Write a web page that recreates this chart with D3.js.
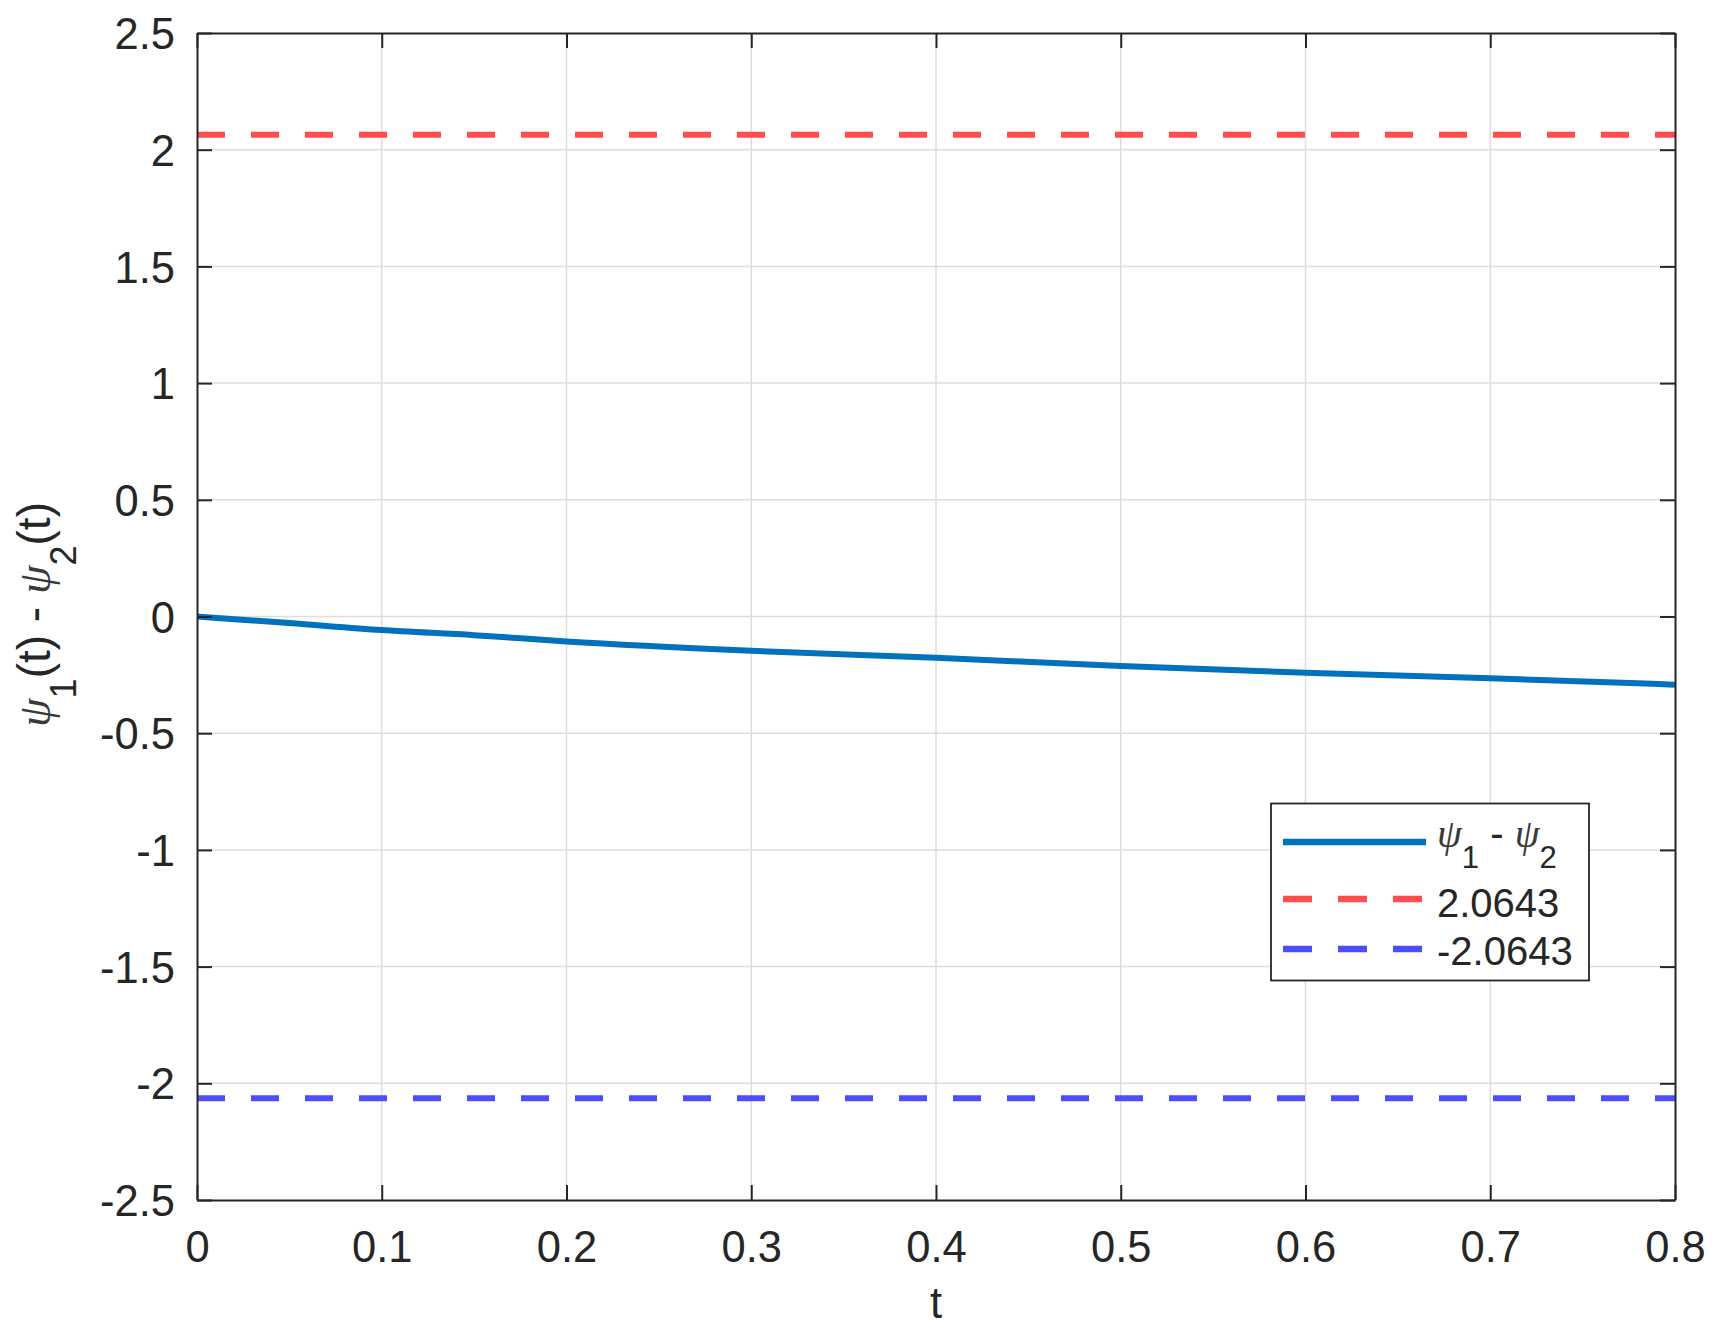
<!DOCTYPE html>
<html>
<head>
<meta charset="utf-8">
<script src="https://cdn.jsdelivr.net/npm/d3@7"></script>
<style>
  html, body { margin: 0; padding: 0; background: #fff; }
  svg { display: block; }
  text { font-family: "Liberation Sans", Arial, Helvetica, sans-serif; fill: #262626; }
</style>
</head>
<body>
<svg id="chart" width="1717" height="1337"></svg>
<script>
// ---- data ----
const tValues = [0, 0.05, 0.1, 0.15, 0.2, 0.3, 0.4, 0.5, 0.6, 0.7, 0.8];
const psiDiff = [0, -0.028, -0.058, -0.08, -0.107, -0.147, -0.177, -0.212, -0.241, -0.265, -0.292];
const upperBound = 2.0643;
const lowerBound = -2.0643;
const xTicks = [0, 0.1, 0.2, 0.3, 0.4, 0.5, 0.6, 0.7, 0.8];
const xTickLabels = ["0", "0.1", "0.2", "0.3", "0.4", "0.5", "0.6", "0.7", "0.8"];
const yTicks = [-2.5, -2, -1.5, -1, -0.5, 0, 0.5, 1, 1.5, 2, 2.5];
const yTickLabels = ["-2.5", "-2", "-1.5", "-1", "-0.5", "0", "0.5", "1", "1.5", "2", "2.5"];
const legendLabels = ["2.0643", "-2.0643"];

// ---- layout ----
const W = 1717, H = 1337;
const margin = { left: 197, top: 33, right: 42, bottom: 137 };
const pw = W - margin.left - margin.right;
const ph = H - margin.top - margin.bottom;
const axisColor = "#262626";
const gridColor = "#dedede";
const blue = "#0072BD", red = "#ff4d4d", dblue = "#4d4dff";
const tickFont = 43.5;

const svg = d3.select("#chart");
const g = svg.append("g").attr("transform", `translate(${margin.left},${margin.top})`);

const x = d3.scaleLinear().domain([0, 0.8]).range([0, pw]);
const y = d3.scaleLinear().domain([-2.5, 2.5]).range([ph, 0]);

// grid
g.append("g").selectAll("line").data(xTicks.slice(1, -1)).join("line")
  .attr("x1", d => x(d)).attr("x2", d => x(d)).attr("y1", 0).attr("y2", ph)
  .attr("stroke", gridColor).attr("stroke-width", 1.5);
g.append("g").selectAll("line").data(yTicks.slice(1, -1)).join("line")
  .attr("y1", d => y(d)).attr("y2", d => y(d)).attr("x1", 0).attr("x2", pw)
  .attr("stroke", gridColor).attr("stroke-width", 1.5);

// clip
svg.append("defs").append("clipPath").attr("id", "clip")
  .append("rect").attr("x", 0).attr("y", 0).attr("width", pw).attr("height", ph);
const plot = g.append("g").attr("clip-path", "url(#clip)");

// bounds
plot.append("line").attr("x1", x(0)).attr("x2", x(0.8))
  .attr("y1", y(upperBound)).attr("y2", y(upperBound))
  .attr("stroke", red).attr("stroke-width", 6).attr("stroke-dasharray", "28,26");
plot.append("line").attr("x1", x(0)).attr("x2", x(0.8))
  .attr("y1", y(lowerBound)).attr("y2", y(lowerBound))
  .attr("stroke", dblue).attr("stroke-width", 6).attr("stroke-dasharray", "28,26");

// main series
const pts = tValues.map((t, i) => [t, psiDiff[i]]);
const line = d3.line().x(d => x(d[0])).y(d => y(d[1])).curve(d3.curveMonotoneX);
plot.append("path").attr("d", line(pts)).attr("fill", "none")
  .attr("stroke", blue).attr("stroke-width", 6);

// axes with inside ticks, all four sides
const xAxisB = d3.axisBottom(x).tickValues(xTicks).tickFormat((d, i) => xTickLabels[i]).tickSizeInner(-15).tickSizeOuter(0).tickPadding(30);
const xAxisT = d3.axisTop(x).tickValues(xTicks).tickFormat("").tickSizeInner(-15).tickSizeOuter(0);
const yAxisL = d3.axisLeft(y).tickValues(yTicks).tickFormat((d, i) => yTickLabels[i]).tickSizeInner(-15).tickSizeOuter(0).tickPadding(22);
const yAxisR = d3.axisRight(y).tickValues(yTicks).tickFormat("").tickSizeInner(-15).tickSizeOuter(0);

function style(sel) {
  sel.select(".domain").attr("stroke", axisColor).attr("stroke-width", 2);
  sel.selectAll(".tick line").attr("stroke", axisColor).attr("stroke-width", 2);
  sel.selectAll(".tick text").attr("fill", axisColor).style("font-size", tickFont + "px")
    .style("font-family", '"Liberation Sans", Arial, sans-serif');
}
const gxB = g.append("g").attr("transform", `translate(0,${ph})`).call(xAxisB); style(gxB);
gxB.selectAll(".tick text").attr("y", 0).attr("dy", 0).attr("transform", "translate(0,62)");
const gxT = g.append("g").call(xAxisT); style(gxT);
const gyL = g.append("g").call(yAxisL); style(gyL);
gyL.selectAll(".tick text").attr("dy", "0.36em");
const gyR = g.append("g").attr("transform", `translate(${pw},0)`).call(yAxisR); style(gyR);

// axis labels
svg.append("text").attr("x", margin.left + pw / 2).attr("y", 1318)
  .attr("text-anchor", "middle").style("font-size", tickFont + "px").text("t");

const psiStyle = 'font-family:"Liberation Serif","DejaVu Serif",serif;font-style:italic;font-weight:300;fill:#3a3a3a';
const yl = svg.append("text")
  .attr("transform", `translate(50,${margin.top + ph / 2 - 2}) rotate(-90)`)
  .attr("text-anchor", "middle").style("font-size", "46px");
yl.append("tspan").attr("style", psiStyle).text("ψ");
yl.append("tspan").attr("dy", 26).style("font-size", "36px").text("1");
yl.append("tspan").attr("dy", -26).text("(t) - ");
yl.append("tspan").attr("style", psiStyle).text("ψ");
yl.append("tspan").attr("dy", 26).style("font-size", "36px").text("2");
yl.append("tspan").attr("dy", -26).text("(t)");

// legend
const lg = svg.append("g");
lg.append("rect").attr("x", 1271).attr("y", 803.5).attr("width", 318).attr("height", 177)
  .attr("fill", "#fff").attr("stroke", axisColor).attr("stroke-width", 1.8);
const rows = [
  { yLine: 842, color: blue, dash: null },
  { yLine: 899, color: red, dash: "29,26" },
  { yLine: 949, color: dblue, dash: "29,26" }
];
rows.forEach(r => {
  const l = lg.append("line").attr("x1", 1283).attr("x2", 1426).attr("y1", r.yLine).attr("y2", r.yLine)
    .attr("stroke", r.color).attr("stroke-width", 6.5);
  if (r.dash) l.attr("stroke-dasharray", r.dash);
});
const legFont = 40;
const t1 = lg.append("text").attr("x", 1437).attr("y", 847).style("font-size", legFont + "px");
t1.append("tspan").attr("style", psiStyle).text("ψ");
t1.append("tspan").attr("dy", 21).style("font-size", "31px").text("1");
t1.append("tspan").attr("dy", -21).text(" - ");
t1.append("tspan").attr("style", psiStyle).text("ψ");
t1.append("tspan").attr("dy", 21).style("font-size", "31px").text("2");
lg.append("text").attr("x", 1437).attr("y", 916.5).style("font-size", legFont + "px").text(legendLabels[0]);
lg.append("text").attr("x", 1437).attr("y", 965).style("font-size", legFont + "px").text(legendLabels[1]);
</script>
</body>
</html>
